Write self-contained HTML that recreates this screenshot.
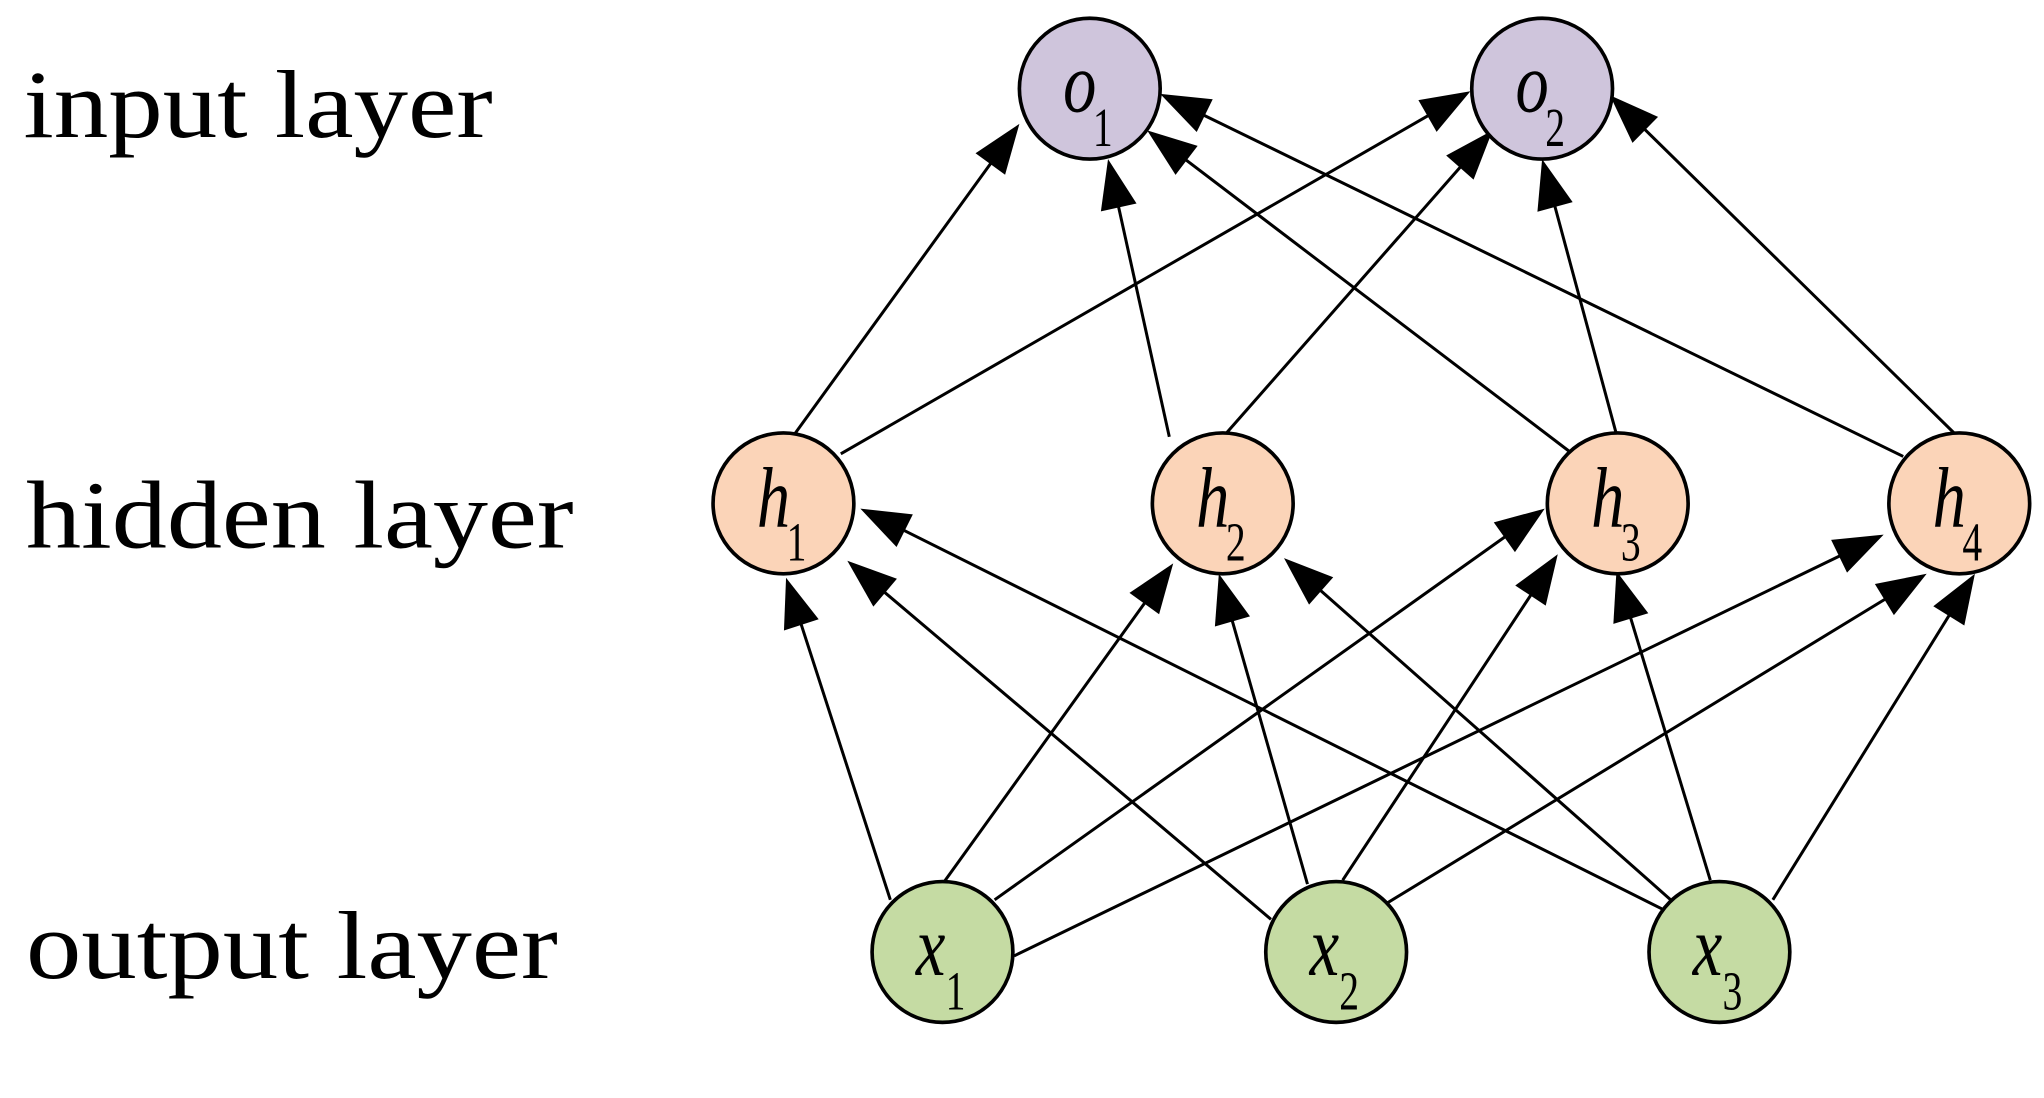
<!DOCTYPE html>
<html><head><meta charset="utf-8"><style>
html,body{margin:0;padding:0;background:#fff;}
svg{display:block;}
</style></head><body>
<svg id="s" width="2044" height="1098" viewBox="0 0 1568 842" preserveAspectRatio="none" xmlns="http://www.w3.org/2000/svg">
<rect width="1568" height="842" fill="#fff"/>
<g id="edges"></g>
<g id="nodes"></g>
<g font-family="Liberation Serif, serif" font-size="74" fill="#000">
<text x="18" y="105" textLength="360" lengthAdjust="spacingAndGlyphs">input layer</text>
<text x="20" y="420" textLength="420" lengthAdjust="spacingAndGlyphs">hidden layer</text>
<text x="20" y="750" textLength="408" lengthAdjust="spacingAndGlyphs">output layer</text>
</g>
</svg>
<script>
var NS="http://www.w3.org/2000/svg";
var O=[[836,68],[1183,68]],H=[[601,386],[938,386],[1241,386],[1503,386]],X=[[723,730],[1025,730],[1319,730]];
var eg=document.getElementById('edges'),ng=document.getElementById('nodes');
function el(t,a,p){var e=document.createElementNS(NS,t);for(var k in a)e.setAttribute(k,a[k]);p.appendChild(e);return e;}
function edge(s,t){
 var dx=t[0]-s[0],dy=t[1]-s[1],L=Math.hypot(dx,dy),ux=dx/L,uy=dy/L;
 var tx=t[0],ty=t[1];
 var AL=38,AW=14,bx=tx-ux*AL,by=ty-uy*AL;
 el('line',{x1:s[0],y1:s[1],x2:bx+ux*2,y2:by+uy*2,stroke:'#000','stroke-width':2.3},eg);
 el('polygon',{points:tx+','+ty+' '+(bx-uy*AW)+','+(by+ux*AW)+' '+(bx+uy*AW)+','+(by-ux*AW),fill:'#000'},eg);
}
var E=[
[[608,335],[782,95]],[[645,348],[1128,70]],[[897,335],[850,122]],[[940,333],[1145,100]],
[[1205,347],[880,100]],[[1240,333],[1183,122]],[[1460,350],[890,72]],[[1500,333],[1235,73]],
[[683,690],[603,443]],[[723,678],[900,432]],[[763,690],[1185,390]],[[778,733],[1445,410]],
[[975,705],[650,430]],[[1003,678],[935,440]],[[1030,675],[1195,425]],[[1060,695],[1478,440]],
[[1275,697],[660,390]],[[1285,693],[985,428]],[[1312,675],[1240,438]],[[1360,690],[1515,440]]
];
E.forEach(function(e){edge(e[0],e[1]);});
function node(p,fill,v,sub){
 el('ellipse',{cx:p[0],cy:p[1],rx:54,ry:54,fill:fill,stroke:'#000','stroke-width':2.8},ng);
 var t=el('text',{x:p[0]-24,y:p[1]+16,'font-family':'Liberation Serif, serif','font-size':60,'font-style':'italic',fill:'#000',transform:'translate('+(p[0])+','+(p[1])+') scale(0.85,1.1) translate('+(-p[0])+','+(-p[1])+')'},ng);
 t.textContent=v;
 var s=el('text',{x:p[0]+3,y:p[1]+40,'font-family':'Liberation Serif, serif','font-size':38,fill:'#000',transform:'translate('+(p[0])+','+(p[1])+') scale(0.8,1.1) translate('+(-p[0])+','+(-p[1])+')'},ng);
 s.textContent=sub;
}
O.forEach(function(p,i){node(p,'#cfc5dc','o',i+1);});
H.forEach(function(p,i){node(p,'#fbd4b8','h',i+1);});
X.forEach(function(p,i){node(p,'#c5dba3','x',i+1);});
</script>
</body></html>
